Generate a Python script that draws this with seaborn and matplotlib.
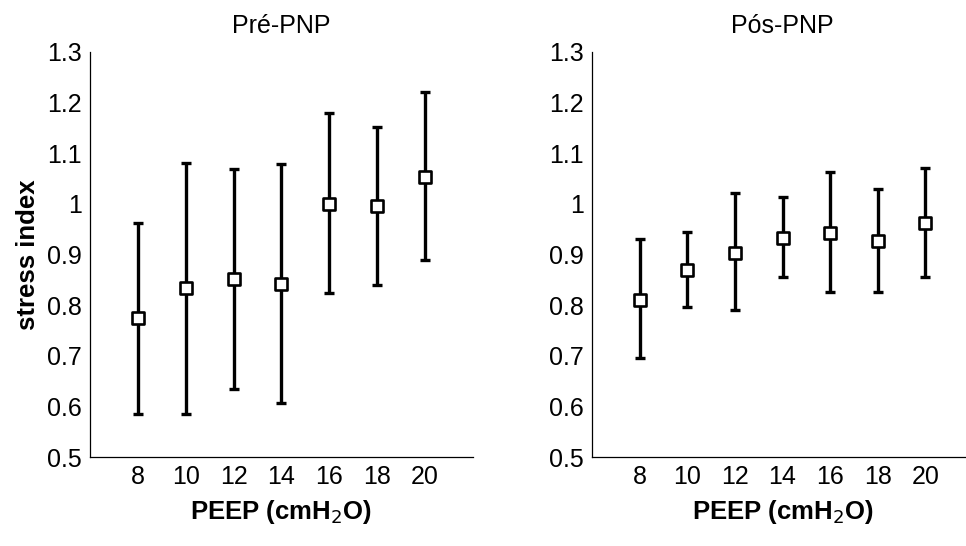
import matplotlib
matplotlib.use("Agg")
import matplotlib.pyplot as plt
import seaborn as sns
import pandas as pd
import numpy as np

peep = [8, 10, 12, 14, 16, 18, 20]

pre_mean = [0.774, 0.833, 0.851, 0.842, 1.000, 0.995, 1.053]
pre_low = [0.585, 0.585, 0.634, 0.606, 0.823, 0.839, 0.889]
pre_high = [0.962, 1.081, 1.069, 1.079, 1.180, 1.152, 1.220]

pos_mean = [0.811, 0.869, 0.902, 0.933, 0.942, 0.926, 0.962]
pos_low = [0.695, 0.796, 0.790, 0.855, 0.826, 0.826, 0.855]
pos_high = [0.930, 0.944, 1.021, 1.014, 1.062, 1.029, 1.070]

titles = ["Pré-PNP", "Pós-PNP"]
yticks = [0.5, 0.6, 0.7, 0.8, 0.9, 1.0, 1.1, 1.2, 1.3]
ytick_labels = ["0.5", "0.6", "0.7", "0.8", "0.9", "1", "1.1", "1.2", "1.3"]

sns.set_style("white")
plt.rcParams['font.family'] = ['Liberation Sans', 'DejaVu Sans']
plt.rcParams['text.color'] = 'black'
plt.rcParams['axes.labelcolor'] = 'black'

fig = plt.figure(figsize=(9.66, 5.46), dpi=100)
ax1 = fig.add_axes([0.0932, 0.163, 0.3964, 0.7418])
ax2 = fig.add_axes([0.6128, 0.163, 0.3945, 0.7418])

FS = 18
for ax, title, m, lo, hi in [(ax1, titles[0], pre_mean, pre_low, pre_high),
                             (ax2, titles[1], pos_mean, pos_low, pos_high)]:
    df = pd.DataFrame({"peep": peep, "mean": m, "low": lo, "high": hi})
    yerr = np.vstack([df["mean"] - df["low"], df["high"] - df["mean"]])
    ax.errorbar(df["peep"], df["mean"], yerr=yerr, fmt="none", ecolor="black",
                elinewidth=2.4, capsize=3.4, capthick=2.4, zorder=2)
    sns.scatterplot(data=df, x="peep", y="mean", marker="s", s=72,
                    facecolor="white", edgecolor="black", linewidth=1.9,
                    ax=ax, zorder=3, legend=False)
    ax.set_xlim(6, 22)
    ax.set_ylim(0.5, 1.3)
    ax.set_xticks(peep)
    ax.set_xticklabels([str(p) for p in peep], fontsize=FS)
    ax.set_yticks(yticks)
    ax.set_yticklabels(ytick_labels, fontsize=FS)
    ax.tick_params(direction="in", length=4, width=0.8, pad=6, colors="black")
    for side in ["top", "right"]:
        ax.spines[side].set_visible(False)
    for side in ["left", "bottom"]:
        ax.spines[side].set_color("black")
        ax.spines[side].set_linewidth(0.9)
    ax.set_title(title, fontsize=FS, pad=14, color="black")
    ax.set_xlabel("PEEP (cmH$_2$O)", fontsize=18.5, fontweight="bold", labelpad=6,
                  color="black")
    ax.set_ylabel("")

ax1.set_ylabel("stress index", fontsize=18.5, fontweight="bold", labelpad=5,
               color="black")

fig.savefig("out.png", dpi=100)
